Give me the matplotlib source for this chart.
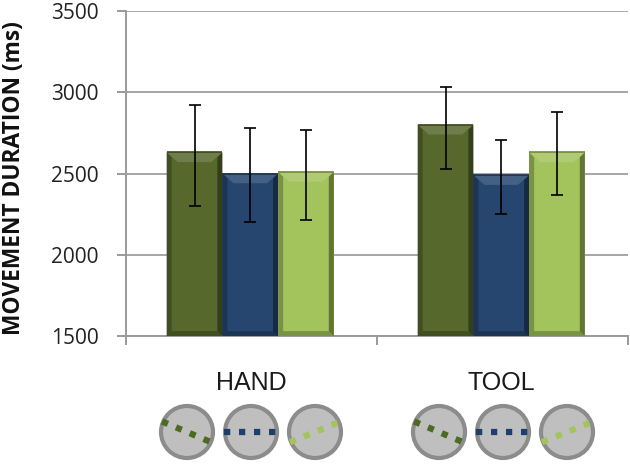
import numpy as np
import matplotlib
matplotlib.use("Agg")
import matplotlib.pyplot as plt
from matplotlib.patches import Circle, Polygon

# Valeurs
groupes = ["HAND", "TOOL"]
moyennes = [[2630, 2500, 2510], [2800, 2490, 2630]]
err_haut = [[2920, 2780, 2770], [3030, 2705, 2880]]
err_bas = [[2300, 2200, 2215], [2530, 2250, 2365]]
couleurs = ["#56682c", "#264670", "#a3c35c"]
couleurs_icones = ["#4b6a22", "#1f3f6b", "#a3c35c"]
angles_icones = [23, 0, -22]  # degrés écran, y vers le bas

W, H = 630, 466
fig = plt.figure(figsize=(W / 100, H / 100), dpi=100)
ax = fig.add_axes([126 / W, 1 - 336 / H, (628 - 126) / W, (336 - 11) / H])
ax.set_xlim(0, 2)
ax.set_ylim(1500, 3500)
ax.set_zorder(2)


def melange(c, autre, t):
    c = np.array(matplotlib.colors.to_rgb(c))
    a = np.array(matplotlib.colors.to_rgb(autre))
    return tuple(c * (1 - t) + a * t)


def biseau(x0, x1, y0, y1, c):
    # faces du biseau autour de la barre
    bx = (x1 - x0) * 0.2
    cote = (x1 - x0) * 0.09
    by = 60
    ax.add_patch(Polygon([(x0, y1), (x1, y1), (x1 - bx, y1 - by), (x0 + bx, y1 - by)],
                         fc=melange(c, "white", 0.14), ec="none", zorder=3))
    ax.add_patch(Polygon([(x0, y1), (x0 + cote, y1 - by * 0.5), (x0 + cote, y0), (x0, y0)],
                         fc=melange(c, "black", 0.25), ec="none", zorder=3))
    ax.add_patch(Polygon([(x1, y1), (x1 - cote, y1 - by * 0.5), (x1 - cote, y0), (x1, y0)],
                         fc=melange(c, "black", 0.4), ec="none", zorder=3))
    ax.add_patch(Polygon([(x0, y0), (x1, y0), (x1 - cote, y0 + by * 0.5), (x0 + cote, y0 + by * 0.5)],
                         fc=melange(c, "black", 0.25), ec="none", zorder=3))
    ax.plot([x0, x1], [y1, y1], color=melange(c, "black", 0.3), lw=1.2, zorder=3,
            solid_capstyle="butt")


largeur = 0.222
for g in range(len(groupes)):
    for i in range(3):
        x = g + 0.495 + (i - 1) * largeur
        m = moyennes[g][i]
        ax.bar(x, m - 1500, bottom=1500, width=largeur, color=couleurs[i], zorder=2.5)
        biseau(x - largeur / 2, x + largeur / 2, 1500, m, couleurs[i])
        ax.errorbar(x, m, yerr=[[m - err_bas[g][i]], [err_haut[g][i] - m]], color="black",
                    lw=1.2, capsize=4, capthick=1.2, zorder=4)

# Axes
gris = "#9a9a9a"
ax.set_yticks([1500, 2000, 2500, 3000, 3500])
ax.set_xticks([0, 1, 2])
ax.set_xticklabels([])
ax.grid(axis="y", color="#a6a6a6", lw=1.4, zorder=0)
ax.set_axisbelow(True)
for s in ["top", "right"]:
    ax.spines[s].set_visible(False)
for s in ["left", "bottom"]:
    ax.spines[s].set_color(gris)
    ax.spines[s].set_linewidth(1.4)
ax.tick_params(axis="y", direction="out", length=6.5, width=1.4, color=gris, pad=13,
               labelsize=15, labelcolor="#222222")
ax.tick_params(axis="x", direction="out", length=6.5, width=1.4, color=gris)
for t in ax.get_yticklabels():
    t.set_fontfamily("Open Sans")
    t.set_clip_on(False)

fig.text(14 / W, 1 - 178 / H, "MOVEMENT DURATION (ms)", rotation=90, ha="center", va="center",
         fontsize=16.4, fontweight="bold", family="Open Sans", color="#111111")

# Libellés et icônes sous le graphique
fond = fig.add_axes([0, 0, 1, 1])
fond.set_xlim(0, W)
fond.set_ylim(H, 0)
fond.axis("off")
fond.set_zorder(1)
centres_groupes = [251, 503]
ecart_icones = [-64, 0, 64]
for g, nom in enumerate(groupes):
    fond.text(centres_groupes[g] - g * 2, 383, nom, ha="center", va="center", fontsize=18,
              family="Liberation Sans", color="#1a1a1a")
    for i in range(3):
        cx = centres_groupes[g] + ecart_icones[i]
        cy = 432
        fond.add_patch(Circle((cx, cy), 26, fc="#bfbfbf", ec="#8c8c8c", lw=3))
        a = np.radians(angles_icones[i])
        dx, dy = 27 * np.cos(a), 27 * np.sin(a)
        fond.plot([cx - dx, cx + dx], [cy - dy, cy + dy], color=couleurs_icones[i],
                  lw=4.5, ls=(0, (1, 1.4)))

fig.savefig("out.png", dpi=100)
